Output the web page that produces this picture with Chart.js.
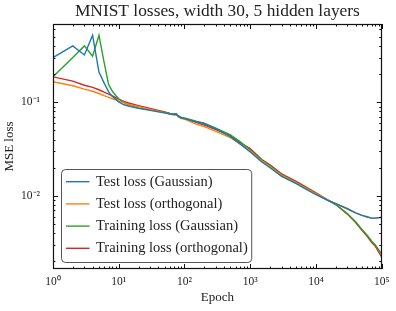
<!DOCTYPE html>
<html>
<head>
<meta charset="utf-8">
<script src="https://cdn.jsdelivr.net/npm/chart.js@4"></script>
<style>
  html, body { margin: 0; padding: 0; background: #fff; }
</style>
</head>
<body>
<canvas id="chart" width="396" height="311"></canvas>
<script>
// values (log-log)
const epochs = [1, 2, 3, 4, 5, 6, 7, 8, 9, 10,
    12, 15, 20, 30, 40, 50, 60, 70, 75, 80, 90, 100,
    150, 200, 300, 500, 700,
    1000, 1500, 2000, 3000, 5000, 7000,
    10000, 15000, 20000, 30000, 40000, 50000, 60000, 70000, 80000, 100000]

const testGaussian = [0.30, 0.40, 0.32, 0.52, 0.21, 0.16, 0.13, 0.115, 0.108, 0.101,
    0.094, 0.090, 0.086, 0.082, 0.079, 0.077, 0.075, 0.074, 0.0745, 0.071, 0.068, 0.067,
    0.062, 0.059, 0.052, 0.043, 0.036,
    0.0295, 0.023, 0.020, 0.0162, 0.0135, 0.0118,
    0.0103, 0.0090, 0.0083, 0.0073, 0.0066, 0.0062, 0.0060, 0.0058, 0.0058, 0.0059]

const testOrthogonal = [0.166, 0.150, 0.138, 0.131, 0.124, 0.118, 0.113, 0.109, 0.106, 0.103,
    0.099, 0.094, 0.090, 0.084, 0.080, 0.077, 0.075, 0.073, 0.074, 0.070, 0.067, 0.066,
    0.0585, 0.055, 0.049, 0.042, 0.036,
    0.030, 0.0235, 0.0205, 0.0166, 0.0138, 0.0121,
    0.0105, 0.0091, 0.0083, 0.0073, 0.0066, 0.0062, 0.0059, 0.0058, 0.0058, 0.0059]

const trainGaussian = [0.187, 0.30, 0.40, 0.31, 0.52, 0.265, 0.155, 0.131, 0.118, 0.109,
    0.099, 0.092, 0.087, 0.083, 0.080, 0.078, 0.076, 0.075, 0.075, 0.072, 0.069, 0.068,
    0.063, 0.060, 0.053, 0.045, 0.038,
    0.031, 0.024, 0.021, 0.0168, 0.0140, 0.0122,
    0.0106, 0.0090, 0.0081, 0.0065, 0.0053, 0.0044, 0.0038, 0.0033, 0.0030, 0.0024]

const trainOrthogonal = [0.187, 0.168, 0.152, 0.144, 0.136, 0.128, 0.122, 0.117, 0.112, 0.108,
    0.102, 0.097, 0.092, 0.086, 0.082, 0.079, 0.076, 0.074, 0.0755, 0.071, 0.068, 0.067,
    0.061, 0.057, 0.051, 0.044, 0.037,
    0.032, 0.0245, 0.0215, 0.0172, 0.0143, 0.0125,
    0.0108, 0.0091, 0.0081, 0.0064, 0.0052, 0.0043, 0.0037, 0.0032, 0.0029, 0.00222]

const seriesLabels = ['Test loss (Gaussian)', 'Test loss (orthogonal)', 'Training loss (Gaussian)', 'Training loss (orthogonal)']
const seriesColors = ['#1f77b4', '#ff7f0e', '#2ca02c', '#d62728']
const xTickValues = [1, 10, 100, 1000, 10000, 100000]
const yTickValues = [0.01, 0.1]
const chartTitle = 'MNIST losses, width 30, 5 hidden layers'

const ctx = document.getElementById('chart')
const serif = '"Liberation Serif", "Times New Roman", serif'
const ink = '#222'

const sup = { '0': '⁰', '1': '¹', '2': '²', '3': '³', '4': '⁴', '5': '⁵', '6': '⁶', '7': '⁷', '8': '⁸', '9': '⁹', '-': '⁻' }
function powerLabel(v) {
    const e = Math.round(Math.log10(v))
    return '10' + String(e).split('').map(c => sup[c]).join('')
}

function points(values) {
    return epochs.map((x, i) => ({ x: x, y: values[i] }))
}

// title centred over the plot area (matplotlib style), not the whole canvas
const axesTitle = {
    id: 'axesTitle',
    afterDraw(chart) {
        const { ctx, chartArea: a } = chart
        ctx.save()
        ctx.font = '17.4px ' + serif
        ctx.fillStyle = ink
        ctx.textAlign = 'center'
        ctx.textBaseline = 'middle'
        ctx.fillText(chartTitle, (a.left + a.right) / 2, 11.8)
        ctx.restore()
    }
}

// frame + inward ticks on all four sides
const frameTicks = {
    id: 'frameTicks',
    afterDatasetsDraw(chart) {
        const { ctx, chartArea: a, scales } = chart
        ctx.save()
        ctx.strokeStyle = '#111'
        ctx.lineWidth = 1
        ctx.beginPath()
        const mark = (scale, horizontal) => {
            const lo = Math.floor(Math.log10(scale.min))
            const hi = Math.ceil(Math.log10(scale.max))
            for (let d = lo; d <= hi; d++) {
                for (let k = 1; k <= 9; k++) {
                    const v = k * Math.pow(10, d)
                    if (v < scale.min * 0.999 || v > scale.max * 1.001) continue
                    const p = Math.round(scale.getPixelForValue(v)) + 0.5
                    const len = k === 1 ? 5 : 2.5
                    if (horizontal) {
                        ctx.moveTo(p, a.bottom); ctx.lineTo(p, a.bottom - len)
                        ctx.moveTo(p, a.top); ctx.lineTo(p, a.top + len)
                    } else {
                        ctx.moveTo(a.left, p); ctx.lineTo(a.left + len, p)
                        ctx.moveTo(a.right, p); ctx.lineTo(a.right - len, p)
                    }
                }
            }
        }
        mark(scales.x, true)
        mark(scales.y, false)
        ctx.stroke()
        ctx.lineWidth = 1.2
        ctx.strokeRect(Math.round(a.left) + 0.5, Math.round(a.top) + 0.5,
            Math.round(a.right - a.left) - 1, Math.round(a.bottom - a.top) - 1)
        ctx.restore()
    }
}

// boxed legend in the lower left of the plot area
const boxLegend = {
    id: 'boxLegend',
    afterDraw(chart) {
        const { ctx, chartArea: a } = chart
        const sets = chart.data.datasets
        ctx.save()
        ctx.font = '14.5px ' + serif
        const textW = Math.max(...sets.map(d => ctx.measureText(d.label).width))
        const rowH = 22.2
        const w = 35 + textW + 3.5
        const h = 12.7 + rowH * (sets.length - 1) + 13.7
        const x = a.left + 8
        const y = a.bottom - 7 - h
        ctx.beginPath()
        ctx.roundRect(x + 0.5, y + 0.5, w, h, 4)
        ctx.fillStyle = 'rgba(255,255,255,0.85)'
        ctx.fill()
        ctx.strokeStyle = '#555'
        ctx.lineWidth = 1
        ctx.stroke()
        ctx.textBaseline = 'middle'
        ctx.textAlign = 'left'
        sets.forEach((d, i) => {
            const cy = y + 12.7 + i * rowH
            ctx.strokeStyle = d.borderColor
            ctx.lineWidth = 1.4
            ctx.beginPath()
            ctx.moveTo(x + 5, cy)
            ctx.lineTo(x + 28.5, cy)
            ctx.stroke()
            ctx.fillStyle = ink
            ctx.fillText(d.label, x + 35, cy)
        })
        ctx.restore()
    }
}

const chartInstance = new Chart(ctx, {
    type: 'line',
    data: {
        datasets: [testGaussian, testOrthogonal, trainGaussian, trainOrthogonal].map((vals, i) => ({
            label: seriesLabels[i],
            data: points(vals),
            borderColor: seriesColors[i],
            backgroundColor: seriesColors[i],
            borderWidth: 1.4,
            pointRadius: 0,
            tension: 0,
            fill: false
        }))
    },
    options: {
        responsive: false,
        animation: false,
        layout: { padding: { left: 0, right: 14, top: 24, bottom: 0 } },
        plugins: {
            legend: { display: false },
            tooltip: { enabled: false },
            title: { display: false }
        },
        scales: {
            x: {
                type: 'logarithmic',
                min: 1,
                max: 100000,
                afterBuildTicks: s => { s.ticks = xTickValues.map(v => ({ value: v })) },
                afterFit: s => { s.height = 42 },
                grid: { display: false, drawTicks: false },
                border: { display: false },
                ticks: {
                    callback: v => powerLabel(v),
                    color: ink,
                    font: { family: serif, size: 11.5 },
                    padding: 6.5,
                    maxRotation: 0,
                    autoSkip: false
                },
                title: {
                    display: true,
                    text: 'Epoch',
                    color: ink,
                    font: { family: serif, size: 13 },
                    padding: { top: 0, bottom: 5.9 }
                }
            },
            y: {
                type: 'logarithmic',
                min: 0.00166,
                max: 0.685,
                afterBuildTicks: s => { s.ticks = yTickValues.map(v => ({ value: v })) },
                afterFit: s => { s.width = 53 },
                grid: { display: false, drawTicks: false },
                border: { display: false },
                ticks: {
                    callback: v => powerLabel(v),
                    color: ink,
                    font: { family: serif, size: 11.5 },
                    padding: 13,
                    autoSkip: false
                },
                title: {
                    display: true,
                    text: 'MSE loss',
                    color: ink,
                    font: { family: serif, size: 13 },
                    padding: { top: 1.7, bottom: 0 }
                }
            }
        }
    },
    plugins: [frameTicks, boxLegend, axesTitle]
})
</script>
</body>
</html>
